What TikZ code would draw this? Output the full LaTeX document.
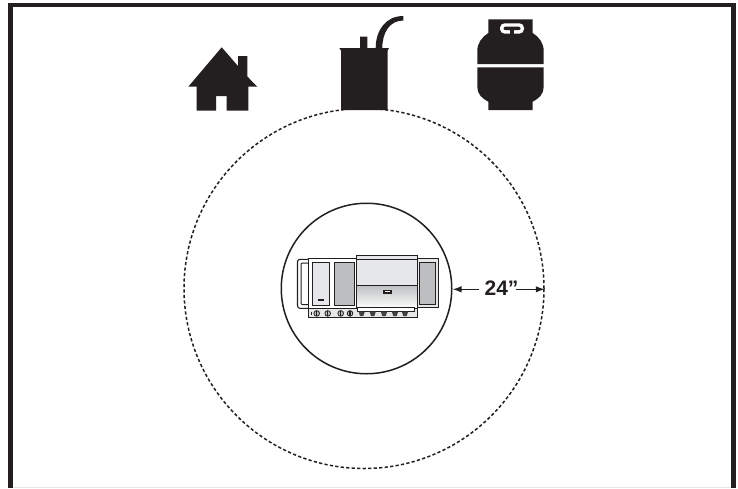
\documentclass[tikz,border=0pt]{standalone}
\usepackage{fontspec}
\setmainfont{Liberation Sans}
\usetikzlibrary{arrows.meta}
\definecolor{ink}{HTML}{231F20}
\definecolor{panelgray}{HTML}{BCBEC0}
\definecolor{panellight}{HTML}{E6E7E8}
\tikzset{
  icon/.style={fill=ink,draw=none},
  cutout/.style={fill=white,draw=none},
  grillpart/.style={draw=ink,line width=0.85pt,fill=panellight},
  grillgray/.style={draw=ink,line width=0.85pt,fill=panelgray},
  knob/.style={draw=ink,line width=0.8pt,fill=panelgray},
  ring/.style={circle,inner sep=0pt,draw=ink},
  dim/.style={draw=ink,line width=1.4pt,-{Latex[length=9pt,width=6.5pt]}}
}
\begin{document}
\begin{tikzpicture}[x=1pt,y=-1pt]
\useasboundingbox (0,0) rectangle (738,488);
\fill[white] (0,0) rectangle (738,488);
% frame
\fill[ink] (8,2.8) rectangle (736,7.3);
\fill[ink] (8,2.8) rectangle (13.2,488);
\fill[ink] (731,2.8) rectangle (736,488);
\fill[panellight] (13.2,487) rectangle (731,488);
% circles
\node[ring,dash pattern=on 3.2pt off 2.3pt,line width=1.5pt,minimum size=360pt] (outer) at (364,288.5) {};
\node[ring,line width=1.5pt,minimum size=170.5pt] (inner) at (366.5,288.5) {};
% house
\fill[icon] (221.7,47.3) -- (238,66) -- (238,56) -- (247.3,56) -- (247.3,76.5) -- (257.3,86.7) -- (248.3,86.7) -- (248.3,110.7)
  -- (226.7,110.7) -- (226.7,96) -- (216,96) -- (216,110.7) -- (196.7,110.7) -- (196.7,86.7) -- (188.3,86.7) -- cycle;
% tank
\fill[icon] (339.3,48) -- (360,48) -- (360,36.7) -- (367.3,36.7) -- (367.3,48) -- (375.7,48)
  .. controls (375.7,30) and (386,16) .. (403.3,16) -- (403.3,20.5)
  .. controls (390,20.5) and (382.3,32) .. (382.3,48) -- (389,48) -- (387.7,50.5) -- (387.7,110) -- (341,110) -- (341,50.5) -- cycle;
% cylinder
\fill[icon] (488.3,19.3) -- (532.7,19.3) -- (532.7,33)
  .. controls (539,37) and (543.7,43) .. (543.7,51) -- (543.7,64) -- (477.3,64) -- (477.3,51)
  .. controls (477.3,43) and (482,37) .. (488.3,33) -- cycle;
\fill[icon] (477.3,67.3) -- (543.7,67.3) -- (543.7,87)
  .. controls (543.7,94) and (539,98.5) .. (532.7,101.7) -- (532.7,110) -- (488.3,110) -- (488.3,101.7)
  .. controls (482,98.5) and (477.3,94) .. (477.3,87) -- cycle;
\fill[cutout,rounded corners=4.5pt] (500,23.3) rectangle (524,33.6);
\fill[icon,rounded corners=2pt] (503.5,26.6) rectangle (520.5,30.2);
\fill[icon] (509.5,30) rectangle (514,34);
% grill
\draw[draw=ink,line width=1.1pt,rounded corners=2.5pt] (308.3,259.3) -- (297.5,259.3) -- (297.5,308.3) -- (308.3,308.3);
\draw[draw=ink,line width=1pt,rounded corners=1pt] (308.3,263) -- (301,263) -- (301,304.5) -- (308.3,304.5);
\draw[grillpart] (417,258.7) rectangle (438.3,307.5);
\draw[grillgray] (419,262.3) rectangle (435,304.3);
\draw[grillpart,fill=white] (308.3,258.7) rectangle (356.7,308.3);
\draw[grillpart] (312.7,262.3) rectangle (329.3,305);
\draw[grillgray] (334.3,262.3) rectangle (354,305);
\fill[ink] (318,299) rectangle (324,300.5);
\draw[grillpart,fill=panellight] (308.3,308.3) rectangle (417.3,317.7);
\draw[grillpart] (356.7,255.3) rectangle (417,259.3);
\draw[grillpart] (356.7,259.3) rectangle (417,285);
\draw[draw=ink,line width=0.85pt,top color=panelgray,bottom color=white] (356.7,285) rectangle (417,308.3);
\fill[ink] (382.7,290) rectangle (391.7,294);
\fill[white] (384.5,291) rectangle (389.8,292.4);
\draw[grillpart,fill=white] (357.3,307.5) rectangle (414,311.5);
\foreach \kx in {316.7,327.7,340.7,350}{
  \draw[knob] (\kx,313.4) circle (2.8pt);
  \fill[ink] (\kx-0.7,310.7) rectangle (\kx+0.7,316.1);
}
\foreach \kx in {361.7,372.7,384,395,405}{
  \fill[ink!85] (\kx-3.2,311.5) -- (\kx+3.2,311.5) -- (\kx+1.7,316) -- (\kx-1.7,316) -- cycle;
}
\fill[ink] (310.6,311.7) rectangle (311.6,315);
% dimension
\node[font=\bfseries,inner sep=0pt,text=ink] (dimlabel) at (501.5,288.5) {\fontsize{21pt}{22pt}\selectfont 24”};
\coordinate (dimleftstart) at (479.3,289.3);
\coordinate (dimrightstart) at (516,289.3);
\draw[dim] (dimleftstart) -- (inner.east |- dimleftstart);
\draw[dim] (dimrightstart) -- (outer.east |- dimrightstart);
\end{tikzpicture}
\end{document}
